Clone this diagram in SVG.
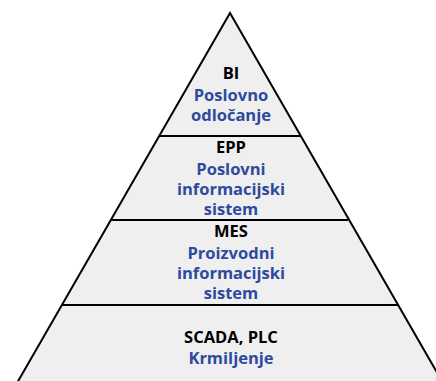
<svg xmlns="http://www.w3.org/2000/svg" width="436" height="381" viewBox="0 0 436 381">
<style>
.edge{fill:none;stroke:#000;stroke-width:2}
.t{font-family:"Open Sans","Noto Sans",sans-serif;font-weight:bold;font-size:16.5px;text-anchor:middle}
.k{fill:#000}
.b{fill:#2e4a9e}
</style>
<rect width="436" height="381" fill="#fff"/>
<path d="M230,13 L17,383 L443,383 Z" fill="#efefef" stroke="#000" stroke-width="2" stroke-linejoin="miter"/>
<g id="connectors">
<line class="edge" x1="159" y1="136" x2="300" y2="136"/>
<line class="edge" x1="111" y1="220" x2="348" y2="220"/>
<line class="edge" x1="62" y1="305" x2="398" y2="305"/>
</g>
<g id="bi">
<text class="t k" x="231" y="79">BI</text>
<text class="t b" x="231" y="101">Poslovno</text>
<text class="t b" x="231" y="121">odločanje</text>
</g>
<g id="epp">
<text class="t k" x="231" y="153">EPP</text>
<text class="t b" x="231" y="175">Poslovni</text>
<text class="t b" x="231" y="195">informacijski</text>
<text class="t b" x="231" y="215">sistem</text>
</g>
<g id="mes">
<text class="t k" x="231" y="237">MES</text>
<text class="t b" x="231" y="259">Proizvodni</text>
<text class="t b" x="231" y="279">informacijski</text>
<text class="t b" x="231" y="299">sistem</text>
</g>
<g id="scada">
<text class="t k" x="231" y="343">SCADA, PLC</text>
<text class="t b" x="231" y="364">Krmiljenje</text>
</g>
</svg>
